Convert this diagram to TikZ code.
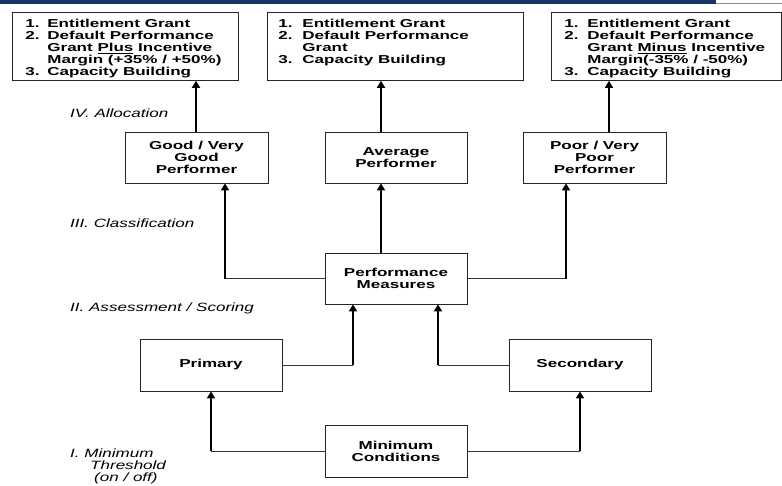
\documentclass[tikz,border=0pt]{standalone}
\usepackage{fontspec}
\usetikzlibrary{arrows.meta}
\newfontfamily\dgfont[FakeStretch=1.48]{Liberation Sans}
\newfontfamily\labfont[FakeStretch=1.42]{Liberation Sans}
\definecolor{navy}{RGB}{22,52,104}
\begin{document}
\begin{tikzpicture}[x=1pt,y=-1pt,
  box/.style={draw=black!85, line width=0.8pt, fill=white,
    font=\dgfont\bfseries\fontsize{11.5pt}{11.8pt}\selectfont,
    align=center, inner sep=0pt, minimum width=142pt, minimum height=52pt},
  topbox/.style={draw=black!85, line width=0.8pt, fill=white,
    font=\dgfont\bfseries\fontsize{11.5pt}{11.7pt}\selectfont,
    inner ysep=7pt, anchor=north west},
  lab/.style={font=\labfont\itshape\fontsize{12pt}{12pt}\selectfont,
    anchor=base west, inner sep=0pt},
  arr/.style={line width=2pt, -{Triangle[width=8pt,length=7pt]}},
  seg/.style={line width=0.9pt, draw=black!80}]
\useasboundingbox (0,0) rectangle (782,485);
% top band
\fill[navy] (0,0) rectangle (716,3.5);
\draw[black!45, line width=0.8pt] (716,3.2) -- (782,3.2);

% top boxes
\node[topbox, inner xsep=13pt] (tl) at (12,12) {\parbox[c][54pt][t]{200pt}{%
  \begin{tabular}[t]{@{}p{22pt}@{}l@{}}
  1. & Entitlement Grant\\
  2. & Default Performance\\
     & Grant \underline{Plus} Incentive\\
     & Margin (+35\% / +50\%)\\
  3. & Capacity Building
  \end{tabular}}};
\node[topbox, inner xsep=11pt] (tm) at (267,12) {\parbox[c][54pt][t]{234pt}{%
  \begin{tabular}[t]{@{}p{24pt}@{}l@{}}
  1. & Entitlement Grant\\
  2. & Default Performance\\
     & Grant\\
  3. & Capacity Building
  \end{tabular}}};
\node[topbox, inner xsep=13pt] (tr) at (551,12) {\parbox[c][54pt][t]{204pt}{%
  \begin{tabular}[t]{@{}p{23pt}@{}l@{}}
  1. & Entitlement Grant\\
  2. & Default Performance\\
     & Grant \underline{Minus} Incentive\\
     & Margin(-35\% / -50\%)\\
  3. & Capacity Building
  \end{tabular}}};

% performer boxes
\node[box, minimum width=143pt, minimum height=51pt] (good) at (196.5,157.5) {Good / Very\\Good\\Performer};
\node[box, minimum height=51pt] (avg) at (396,157.5) {Average\\Performer};
\node[box, minimum width=143pt, minimum height=51pt] (poor) at (594.5,157.5) {Poor / Very\\Poor\\Performer};

\node[box, minimum height=51pt] (pm) at (396,278.5) {Performance\\Measures};
\node[box] (prim) at (211,365) {Primary};
\node[box] (sec) at (580,365) {Secondary};
\node[box] (mc) at (396,451) {Minimum\\Conditions};

% labels
\node[lab] (l4) at (70,117) {IV. Allocation};
\node[lab] (l3) at (70,227) {III. Classification};
\node[lab] (l2) at (70,311) {II. Assessment / Scoring};
\node[lab] (l1a) at (70,457) {I. Minimum};
\node[lab] (l1b) at (90,469) {Threshold};
\node[lab] (l1c) at (94,481) {(on / off)};

% allocation arrows
\draw[arr] ([xshift=-0.5pt]good.north) -- ([xshift=-0.5pt]good.north |- tl.south);
\draw[arr] ([xshift=-15pt]avg.north) -- ([xshift=-15pt]avg.north |- tm.south);
\draw[arr] ([xshift=14.5pt]poor.north) -- ([xshift=14.5pt]poor.north |- tr.south);

% classification
\draw[arr] ([xshift=-15pt]pm.north) -- ([xshift=-15pt]avg.south);
\coordinate (jl) at ([xshift=28.5pt]good.south |- pm.west);
\coordinate (jr) at ([xshift=-28.5pt]poor.south |- pm.east);
\draw[seg] (pm.west) -- (jl);
\draw[seg] (pm.east) -- (jr);
\draw[arr] (jl) -- (jl |- good.south);
\draw[arr] (jr) -- (jr |- poor.south);

% assessment
\coordinate (kl) at ([xshift=-43pt]pm.south |- prim.east);
\coordinate (kr) at ([xshift=42pt]pm.south |- sec.west);
\draw[seg] (prim.east) -- (kl);
\draw[seg] (sec.west) -- (kr);
\draw[arr] (kl) -- (kl |- pm.south);
\draw[arr] (kr) -- (kr |- pm.south);

% minimum conditions
\coordinate (ml) at (prim.south |- mc.west);
\coordinate (mr) at (sec.south |- mc.east);
\draw[seg] (mc.west) -- (ml);
\draw[seg] (mc.east) -- (mr);
\draw[arr] (ml) -- (prim.south);
\draw[arr] (mr) -- (sec.south);
\end{tikzpicture}
\end{document}
